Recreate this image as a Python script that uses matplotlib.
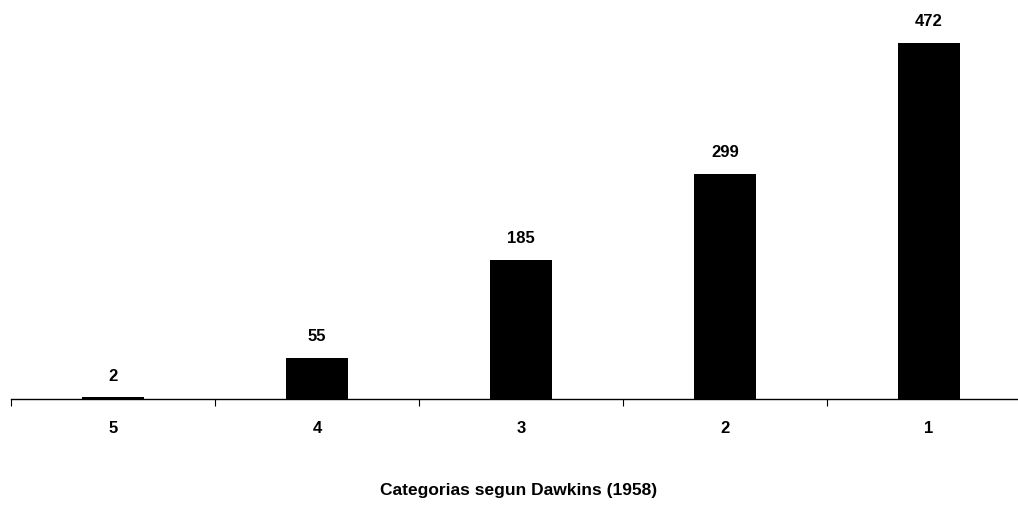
import matplotlib.pyplot as plt

# Data
categories = ['5', '4', '3', '2', '1']
values = [2, 55, 185, 299, 472]
xlabel = 'Categorias segun Dawkins (1958)'

plt.rcParams['font.family'] = ['Liberation Sans', 'DejaVu Sans']

fig = plt.figure(figsize=(10.18, 5.17), dpi=100)
W, H = 1018, 517
# axes spans five category slots of ~204 px; right end runs past the image edge
ax = fig.add_axes([11 / W, 118 / H, 1020 / W, 377 / H])

pos = list(range(len(categories)))
bars = ax.bar(pos, values, width=0.3, color='black')

for x, v in zip(pos, values):
    ax.annotate(str(v), (x, v), xytext=(0, 10), textcoords='offset points',
                ha='center', va='bottom', fontsize=12, fontweight='bold')

ax.set_xlim(-0.5, len(categories) - 0.5)
ax.set_ylim(0, 500)

for s in ['top', 'right', 'left']:
    ax.spines[s].set_visible(False)
ax.spines['bottom'].set_linewidth(1.0)
ax.set_yticks([])

# tick marks at category boundaries, labels at category centres
ax.set_xticks([p - 0.5 for p in pos] + [len(pos) - 0.5])
ax.set_xticklabels([])
ax.tick_params(axis='x', which='major', direction='out', length=5, width=0.8)
ax.set_xticks(pos, minor=True)
ax.set_xticklabels(categories, minor=True, fontsize=12, fontweight='bold')
ax.tick_params(axis='x', which='minor', length=0, pad=16)

ax.set_xlabel(xlabel, fontsize=12.5, fontweight='bold')
ax.xaxis.set_label_coords(508 / 1020, -84 / 377)

fig.savefig('out.png', dpi=100)
